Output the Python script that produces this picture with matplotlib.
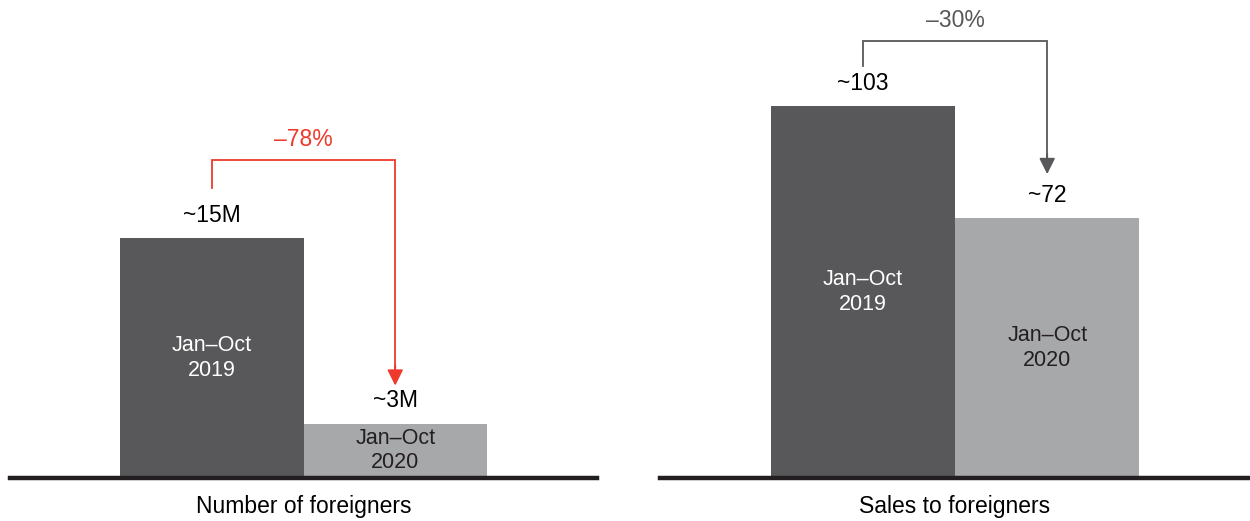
import matplotlib.pyplot as plt

plt.rcParams['font.family'] = ['Liberation Sans', 'DejaVu Sans']

# data
periods = ['Jan–Oct\n2019', 'Jan–Oct\n2020']
foreigners = [15.0, 3.4]          # millions
foreigner_labels = ['~15M', '~3M']
sales = [103, 72]
sales_labels = ['~103', '~72']
panel_titles = ['Number of foreigners', 'Sales to foreigners']
changes = ['–78%', '–30%']

DARK = '#58585a'
LIGHT = '#a7a8aa'
RED = '#ee3a2c'
GREY = '#58585a'

W, H = 1250, 521
fig = plt.figure(figsize=(W / 100, H / 100), dpi=100)

base_px = 43          # baseline distance from bottom (px)
ax_h_px = H - base_px


def panel(left_px, right_px, values, labels, title, change, ccolor, px_per_unit,
          start_off, top_off, tip_off):
    ax = fig.add_axes([left_px / W, base_px / H, (right_px - left_px) / W, ax_h_px / H])
    top = ax_h_px / px_per_unit
    ax.set_ylim(0, top)
    ax.set_xlim(-1.1, 2.1)
    ax.axis('off')

    x = [0, 1]
    ax.bar(x, values, width=1.0, color=[DARK, LIGHT], linewidth=0)
    ax.axhline(0, color='#231f20', lw=3.2, clip_on=False)

    txt_col = ['white', '#231f20']
    for xi, v, lab, per, tc in zip(x, values, labels, periods, txt_col):
        ax.annotate(lab, (xi, v), xytext=(0, 8), textcoords='offset points',
                    ha='center', va='bottom', fontsize=16.5, color='black')
        ax.text(xi, v / 2, per, ha='center', va='center', fontsize=15.5,
                color=tc, linespacing=1.2)

    # bracket with arrow
    d = 1.0 / px_per_unit
    y0 = values[0] + start_off * d
    yt = values[0] + top_off * d
    y1 = values[1] + tip_off * d
    ax.plot([x[0], x[0], x[1], x[1]], [y0, yt, yt, y1 + 10 * d],
            color=ccolor, lw=1.3, solid_joinstyle='miter')
    ax.annotate('', xy=(x[1], y1), xytext=(x[1], y1 + 20 * d),
                arrowprops=dict(arrowstyle='-|>', color=ccolor, lw=1.3,
                                mutation_scale=24, shrinkA=0, shrinkB=0))
    ax.text(0.5, yt + 21 * d, change, ha='center', va='center',
            fontsize=16.5, color=ccolor)

    ax.text(0.5, -28 * d, title, ha='center', va='center', fontsize=16.5,
            color='black')
    return ax


panel(10, 597, foreigners, foreigner_labels, panel_titles[0], changes[0], RED,
      16.0, 50, 78, 38)
panel(660, 1250, sales, sales_labels, panel_titles[1], changes[1], GREY,
      3.61, 40, 65, 44)

fig.savefig('out.png', dpi=100)
